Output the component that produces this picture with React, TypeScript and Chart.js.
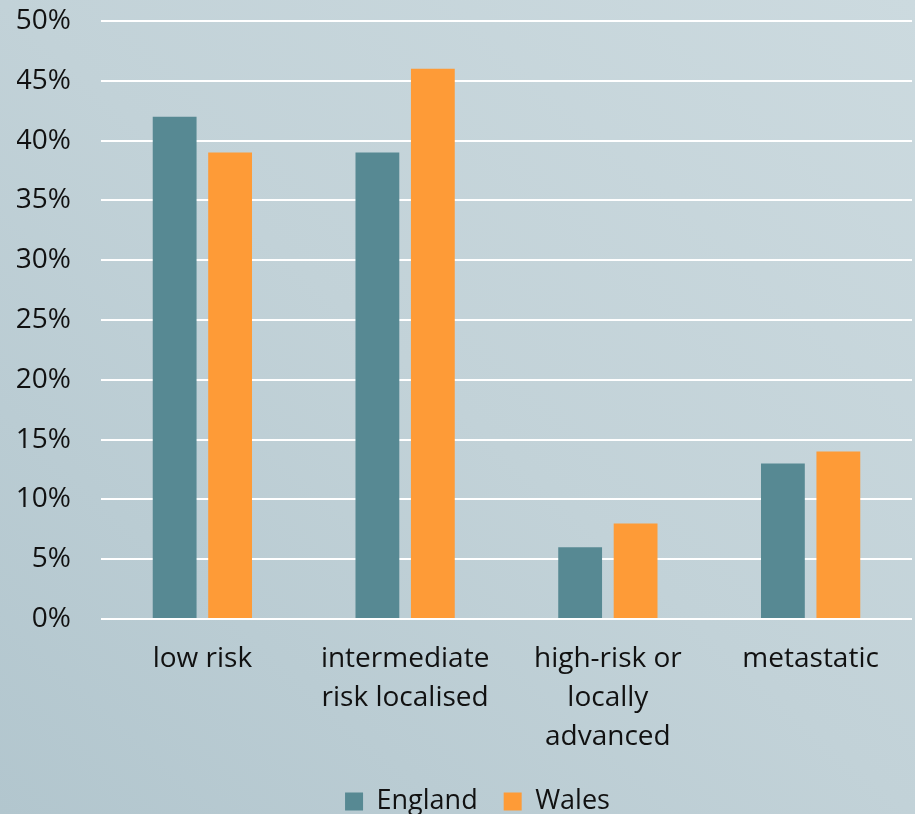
import React, { useEffect, useRef } from "react";
import { Chart, registerables } from "chart.js";

Chart.register(...registerables);

const categories: string[][] = [
  ["low risk"],
  ["intermediate", "risk localised"],
  ["high-risk or", "locally", "advanced"],
  ["metastatic"],
];
const englandValues = [42, 39, 6, 13];
const walesValues = [39, 46, 8, 14];
const seriesNames = ["England", "Wales"];

const FONT = "'Open Sans', sans-serif";

const legendShift = {
  id: "legendShift",
  afterLayout(chart: any) {
    const lg = chart.legend;
    if (lg) {
      lg.left += 13;
      lg.right += 13;
    }
  },
};

export default function App() {
  const ref = useRef<HTMLCanvasElement | null>(null);
  useEffect(() => {
    if (!ref.current) return;
    const chart = new Chart(ref.current, {
      type: "bar",
      data: {
        labels: categories,
        datasets: [
          {
            label: seriesNames[0],
            data: englandValues,
            backgroundColor: "#578993",
            categoryPercentage: 0.547,
            barPercentage: 0.79,
          },
          {
            label: seriesNames[1],
            data: walesValues,
            backgroundColor: "#fe9b37",
            categoryPercentage: 0.547,
            barPercentage: 0.79,
          },
        ],
      },
      options: {
        responsive: false,
        animation: false,
        layout: { padding: { top: 21, right: 3, left: 17, bottom: 0 } },
        plugins: {
          tooltip: { enabled: false },
          legend: {
            position: "bottom",
            labels: {
              boxWidth: 18,
              boxHeight: 18,
              color: "#111",
              padding: 26,
              font: { family: FONT, size: 27 },
            },
          },
        },
        scales: {
          x: {
            grid: { display: false, drawTicks: false },
            border: { display: false },
            afterFit: (s: any) => {
              s.paddingLeft = 0;
              s.paddingRight = 0;
              s.height -= 15;
            },
            ticks: {
              color: "#111",
              padding: 21,
              maxRotation: 0,
              autoSkip: false,
              font: { family: FONT, size: 28, lineHeight: 1.38 },
            },
          },
          y: {
            min: 0,
            max: 50,
            grid: { color: "#ffffff", lineWidth: 2, drawTicks: false },
            border: { display: false },
            afterFit: (s: any) => {
              s.width = 84;
              s.paddingTop = 0;
              s.paddingBottom = 0;
            },
            ticks: {
              stepSize: 5,
              padding: 30,
              color: "#111",
              font: { family: FONT, size: 28 },
              callback: (v: any) => v + "%",
            },
          },
        },
      },
      plugins: [legendShift],
    });
    return () => chart.destroy();
  }, []);
  return (
    <div
      style={{
        position: "fixed",
        left: 0,
        top: 0,
        width: 915,
        height: 814,
        overflow: "hidden",
        background: "linear-gradient(to top right, #b2c6ce 0%, #c2d2d8 50%, #ccdadf 100%)",
      }}
    >
      <canvas ref={ref} width={915} height={825} style={{ display: "block" }} />
    </div>
  );
}
